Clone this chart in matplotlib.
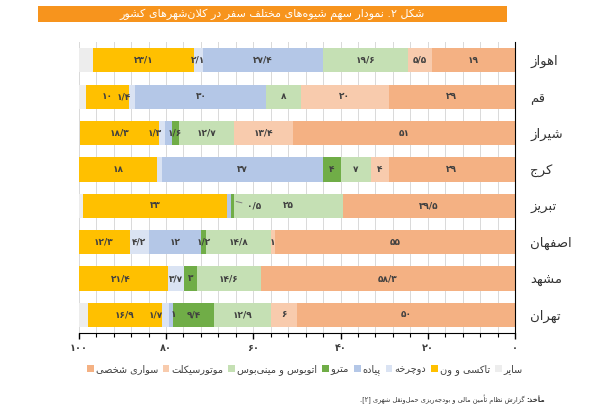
import re

import matplotlib
matplotlib.use("Agg")
import matplotlib.pyplot as plt
import numpy as np
from matplotlib.patches import Patch, Rectangle

plt.rcParams["font.family"] = ["DejaVu Sans"]

# ---- data (cities top to bottom, shares in percent) ----
cities = ["اهواز", "قم", "شیراز", "کرج", "تبریز", "اصفهان", "مشهد", "تهران"]
car = [19, 29, 51, 29, 39.5, 55, 58.3, 50]
moto = [5.5, 20, 13.4, 4, 0, 1, 0, 6]
bus = [19.6, 8, 12.7, 7, 25, 14.8, 14.6, 12.9]
metro = [0, 0, 1.6, 4, 0.5, 1.2, 3, 9.4]
walk = [27.4, 30, 1.5, 37, 1, 12, 0, 1]
bike = [2.1, 1.4, 1.3, 1, 0, 4.2, 3.7, 1.7]
taxi = [23.1, 10, 18.3, 18, 33, 12.3, 21.4, 16.9]
other = [3.3, 1.6, 0, 0, 1, 0, 0, 2.1]

mode_names = ["سواری شخصی", "موتورسیکلت", "اتوبوس و مینی‌بوس", "مترو",
              "پیاده", "دوچرخه", "تاکسی و ون", "سایر"]
mode_colors = ["#f4b183", "#f8cbad", "#c5e0b4", "#70ad47",
               "#b4c7e7", "#dae3f3", "#ffc000", "#ededed"]
series = [car, moto, bus, metro, walk, bike, taxi, other]
xticks = [100, 80, 60, 40, 20, 0]

# ---- minimal Persian shaping (matplotlib has no bidi / joining) ----
FORMS = {
    "ا": ("\uFE8D", "\uFE8E", None, None),
    "آ": ("\uFE81", "\uFE82", None, None),
    "أ": ("\uFE83", "\uFE84", None, None),
    "ب": ("\uFE8F", "\uFE90", "\uFE91", "\uFE92"),
    "پ": ("\uFB56", "\uFB57", "\uFB58", "\uFB59"),
    "ت": ("\uFE95", "\uFE96", "\uFE97", "\uFE98"),
    "ث": ("\uFE99", "\uFE9A", "\uFE9B", "\uFE9C"),
    "ج": ("\uFE9D", "\uFE9E", "\uFE9F", "\uFEA0"),
    "چ": ("\uFB7A", "\uFB7B", "\uFB7C", "\uFB7D"),
    "ح": ("\uFEA1", "\uFEA2", "\uFEA3", "\uFEA4"),
    "خ": ("\uFEA5", "\uFEA6", "\uFEA7", "\uFEA8"),
    "د": ("\uFEA9", "\uFEAA", None, None),
    "ذ": ("\uFEAB", "\uFEAC", None, None),
    "ر": ("\uFEAD", "\uFEAE", None, None),
    "ز": ("\uFEAF", "\uFEB0", None, None),
    "ژ": ("\uFB8A", "\uFB8B", None, None),
    "س": ("\uFEB1", "\uFEB2", "\uFEB3", "\uFEB4"),
    "ش": ("\uFEB5", "\uFEB6", "\uFEB7", "\uFEB8"),
    "ص": ("\uFEB9", "\uFEBA", "\uFEBB", "\uFEBC"),
    "ض": ("\uFEBD", "\uFEBE", "\uFEBF", "\uFEC0"),
    "ط": ("\uFEC1", "\uFEC2", "\uFEC3", "\uFEC4"),
    "ظ": ("\uFEC5", "\uFEC6", "\uFEC7", "\uFEC8"),
    "ع": ("\uFEC9", "\uFECA", "\uFECB", "\uFECC"),
    "غ": ("\uFECD", "\uFECE", "\uFECF", "\uFED0"),
    "ف": ("\uFED1", "\uFED2", "\uFED3", "\uFED4"),
    "ق": ("\uFED5", "\uFED6", "\uFED7", "\uFED8"),
    "ک": ("\uFB8E", "\uFB8F", "\uFB90", "\uFB91"),
    "گ": ("\uFB92", "\uFB93", "\uFB94", "\uFB95"),
    "ل": ("\uFEDD", "\uFEDE", "\uFEDF", "\uFEE0"),
    "م": ("\uFEE1", "\uFEE2", "\uFEE3", "\uFEE4"),
    "ن": ("\uFEE5", "\uFEE6", "\uFEE7", "\uFEE8"),
    "ه": ("\uFEE9", "\uFEEA", "\uFEEB", "\uFEEC"),
    "و": ("\uFEED", "\uFEEE", None, None),
    "ی": ("\uFBFC", "\uFBFD", "\uFBFE", "\uFBFF"),
}
LAM_ALEF = {"ا": ("\uFEFB", "\uFEFC"), "آ": ("\uFEF5", "\uFEF6"), "أ": ("\uFEF7", "\uFEF8")}
MIRROR = {"[": "]", "]": "[", "(": ")", ")": "("}


def dual(c):
    return c in FORMS and FORMS[c][2] is not None


def fa(text):
    out = []
    i = 0
    while i < len(text):
        c = text[i]
        if c not in FORMS:
            if c != "\u200c":
                out.append(c)
            i += 1
            continue
        jp = i > 0 and dual(text[i - 1])
        if c == "ل" and i + 1 < len(text) and text[i + 1] in LAM_ALEF:
            iso, fin = LAM_ALEF[text[i + 1]]
            out.append(fin if jp else iso)
            i += 2
            continue
        jn = dual(c) and i + 1 < len(text) and text[i + 1] in FORMS
        iso, fin, ini, med = FORMS[c]
        out.append(med if jp and jn else fin if jp else ini if jn else iso)
        i += 1
    tokens = re.findall(r"[0-9۰-۹]+(?:[/.][0-9۰-۹]+)*|.", "".join(out))
    return "".join(MIRROR.get(t, t) for t in reversed(tokens))


DIGITS = str.maketrans("0123456789.", "۰۱۲۳۴۵۶۷۸۹/")


def fa_num(v):
    return f"{v:g}".translate(DIGITS)


# ---- figure ----
fig = plt.figure(figsize=(6.01, 4.17), dpi=100)
ax = fig.add_axes([0.131, 0.201, 0.726, 0.698])

y = np.arange(len(cities))
left = np.zeros(len(cities))
# (city index, series index): labels missing in the source / nudged sideways
hidden = {(2, 4), (3, 5), (4, 4)}
nudge = {(1, 5): 2.0, (2, 5): 1.8, (7, 5): 2.2, (7, 4): -0.4}
lbl = dict(fontsize=6.5, fontweight="bold", color="#404040")
for k, (vals, col) in enumerate(zip(series, mode_colors)):
    vals = np.array(vals, dtype=float)
    ax.barh(y, vals, left=left, height=0.67, color=col, linewidth=0)
    if k < 7:
        for j, v in enumerate(vals):
            if v <= 0 or (j, k) in hidden:
                continue
            if j == 4 and k == 3:
                ax.annotate(fa_num(v), xy=(left[j] - 0.6, j - 0.12),
                            xytext=(left[j] - 4.8, j), ha="center", va="center",
                            arrowprops=dict(arrowstyle="-", color="#7f7f7f", lw=0.7,
                                            shrinkA=2, shrinkB=0), **lbl)
                continue
            ax.text(left[j] + v / 2 + nudge.get((j, k), 0), j, fa_num(v),
                    ha="center", va="center", **lbl)
    left += vals

ax.set_xlim(100, 0)
ax.set_ylim(len(cities) - 0.5, -0.5)
ax.set_xticks(xticks)
ax.set_xticklabels([fa_num(t) for t in xticks], fontsize=7, fontweight="bold", color="#404040")
ax.set_xticks(np.arange(0, 101, 4), minor=True)
ax.tick_params(axis="x", which="major", length=4, width=1, pad=3)
ax.tick_params(axis="x", which="minor", length=3, width=0.8)
ax.grid(which="both", axis="x", color="#d9d9d9", lw=0.7)
ax.set_axisbelow(True)

ax.yaxis.tick_right()
ax.set_yticks(y)
ax.set_yticklabels([fa(c) for c in cities], fontsize=9.5, color="#333333")
ax.tick_params(axis="y", length=0, pad=11)

for s in ["top", "left"]:
    ax.spines[s].set_visible(False)
ax.spines["right"].set_color("black")
ax.spines["bottom"].set_color("black")

# title bar
fig.patches.append(Rectangle((0.063, 0.947), 0.780, 0.039, transform=fig.transFigure,
                             facecolor="#f7941d", edgecolor="none", zorder=0))
fig.text(0.453, 0.966, fa("شکل ۲. نمودار سهم شیوه‌های مختلف سفر در کلان‌شهرهای کشور"),
         ha="center", va="center", fontsize=8, color="white")

# legend (visual left to right)
handles = [Patch(facecolor=c, edgecolor="none") for c in mode_colors]
fig.legend(handles, [fa(n) for n in mode_names], loc="center", ncol=8,
           bbox_to_anchor=(0.507, 0.115), frameon=False, fontsize=7.0,
           handlelength=0.7, handleheight=0.7, handletextpad=0.2,
           columnspacing=0.5, labelcolor="#404040")

# source note
src_b = fig.text(0.907, 0.043, fa("مأخذ:"), ha="right", va="center",
                 fontsize=5.0, fontweight="bold", color="#333333")
ax.annotate(fa(" گزارش نظام تأمین مالی و بودجه‌ریزی حمل‌ونقل شهری [۲]."),
            xy=(0, 0.5), xycoords=src_b, ha="right", va="center",
            fontsize=4.8, color="#333333", annotation_clip=False)

fig.savefig("out.png", dpi=100)
